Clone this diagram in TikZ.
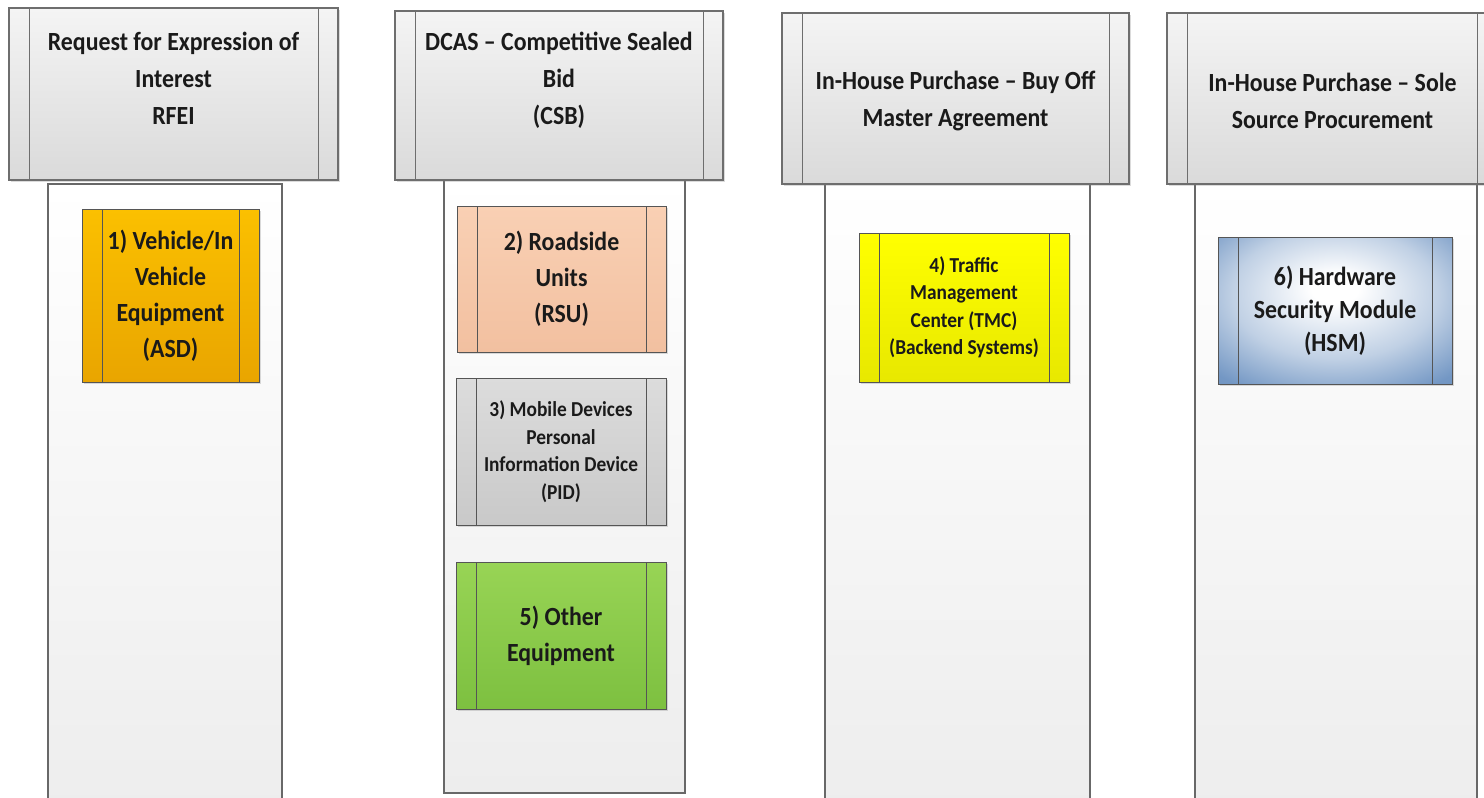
\documentclass[tikz,border=0pt]{standalone}
\usepackage{fontspec}
\setmainfont{Carlito}[FakeStretch=0.91]
\usetikzlibrary{shadows}

\definecolor{ink}{HTML}{1A1A1A}
\definecolor{hdrtop}{HTML}{F4F4F4}
\definecolor{hdrbot}{HTML}{DADADA}
\definecolor{hdrline}{HTML}{6E6E6E}
\definecolor{laneline}{HTML}{686868}
\definecolor{lanebot}{HTML}{EDEDED}
\definecolor{boxline}{HTML}{555555}
\definecolor{ambtop}{HTML}{FBC000}
\definecolor{ambbot}{HTML}{E9A500}
\definecolor{peachtop}{HTML}{F9D0B4}
\definecolor{peachbot}{HTML}{F2C0A0}
\definecolor{greytop}{HTML}{DCDCDC}
\definecolor{greybot}{HTML}{C9C9C9}
\definecolor{yeltop}{HTML}{FFFF00}
\definecolor{yelbot}{HTML}{E8E800}
\definecolor{grntop}{HTML}{98D455}
\definecolor{grnbot}{HTML}{7DC040}
\definecolor{bluedge}{HTML}{7397C4}

% pale centre fading to blue towards the edges
\pgfdeclareradialshading{hsmglow}{\pgfpoint{0bp}{8bp}}{%
  color(0bp)=(white); color(5bp)=(white);
  color(22bp)=(bluedge!45!white); color(36bp)=(bluedge);
  color(72bp)=(bluedge!80!black)}

\tikzset{
  % process shape: rectangle with an extra vertical rule near each side
  procbox/.style={rectangle, inner sep=0pt, draw=#1,
    drop shadow={shadow xshift=2pt, shadow yshift=-2pt, opacity=.28},
    path picture={
      \draw[draw=#1, line width=1pt]
        ([xshift=20pt]path picture bounding box.north west) --
        ([xshift=20pt]path picture bounding box.south west)
        ([xshift=-20pt]path picture bounding box.north east) --
        ([xshift=-20pt]path picture bounding box.south east);}},
  hdrbox/.style={procbox=hdrline, line width=1.2pt,
    top color=hdrtop, bottom color=hdrbot},
  lanebox/.style={rectangle, inner sep=0pt, draw=laneline, line width=1.5pt,
    top color=white, bottom color=lanebot},
  itembox/.style={procbox=boxline, line width=1pt, text=ink, align=center,
    font=\bfseries\fontsize{26.2}{36}\selectfont},
  smalltext/.style={font=\bfseries\fontsize{21.3}{27.5}\selectfont},
  hdrtext/.style={text=ink, align=center, inner sep=0pt,
    font=\bfseries\fontsize{26.2}{37}\selectfont},
}

\begin{document}
\begin{tikzpicture}[x=1pt, y=-1pt]
\useasboundingbox (0,0) rectangle (1484,798);
\clip (0,0) rectangle (1484,798);
\fill[white] (0,0) rectangle (1484,798);

% swim lanes
\node[lanebox, minimum width=234pt, minimum height=628pt] (lane1) at (165,498) {};
\node[lanebox, minimum width=241pt, minimum height=615pt] (lane2) at (564.5,485.5) {};
\node[lanebox, minimum width=265pt, minimum height=630pt] (lane3) at (957.5,497) {};
\node[lanebox, minimum width=282pt, minimum height=630pt] (lane4) at (1336,497) {};

% lane headers
\node[hdrbox, minimum width=329pt, minimum height=172pt] (h1) at (173.5,94) {};
\node[hdrbox, minimum width=328pt, minimum height=169pt] (h2) at (559,95.5) {};
\node[hdrbox, minimum width=347pt, minimum height=171pt] (h3) at (955.5,98.5) {};
\node[hdrbox, minimum width=330pt, minimum height=171pt] (h4) at (1332,98.5) {};

\node[hdrtext] (h1t) at (173.5,78.5) {Request for Expression of\\Interest\\RFEI};
\node[hdrtext] (h2t) at (559,80) {DCAS -- Competitive Sealed\\Bid\\(CSB)};
\node[hdrtext] (h3t) at (955.5,101) {In-House Purchase -- Buy Off\\Master Agreement};
\node[hdrtext] (h4t) at (1332.5,101) {In-House Purchase -- Sole\\Source Procurement};

% equipment items
\node[itembox, top color=ambtop, bottom color=ambbot,
  minimum width=177pt, minimum height=173pt] (b1) at (170.5,295.5)
  {1) Vehicle/In\\Vehicle\\Equipment\\(ASD)};
\node[itembox, top color=peachtop, bottom color=peachbot,
  minimum width=209pt, minimum height=146pt] (b2) at (561.5,279)
  {2) Roadside\\Units\\(RSU)};
\node[itembox, smalltext, top color=greytop, bottom color=greybot,
  minimum width=210pt, minimum height=147pt] (b3) at (561,451.5)
  {3) Mobile Devices\\Personal\\Information Device\\(PID)};
\node[itembox, top color=grntop, bottom color=grnbot,
  minimum width=210pt, minimum height=147pt] (b5) at (561,635.5)
  {5) Other\\Equipment};
\node[itembox, smalltext, top color=yeltop, bottom color=yelbot,
  minimum width=210pt, minimum height=149pt] (b4) at (964,307.5)
  {4) Traffic\\Management\\Center (TMC)\\(Backend Systems)};
\node[itembox, font=\bfseries\fontsize{26.2}{33}\selectfont,
  shading=hsmglow,
  minimum width=234pt, minimum height=147pt] (b6) at (1335,310.5)
  {6) Hardware\\Security Module\\(HSM)};
\end{tikzpicture}
\end{document}
